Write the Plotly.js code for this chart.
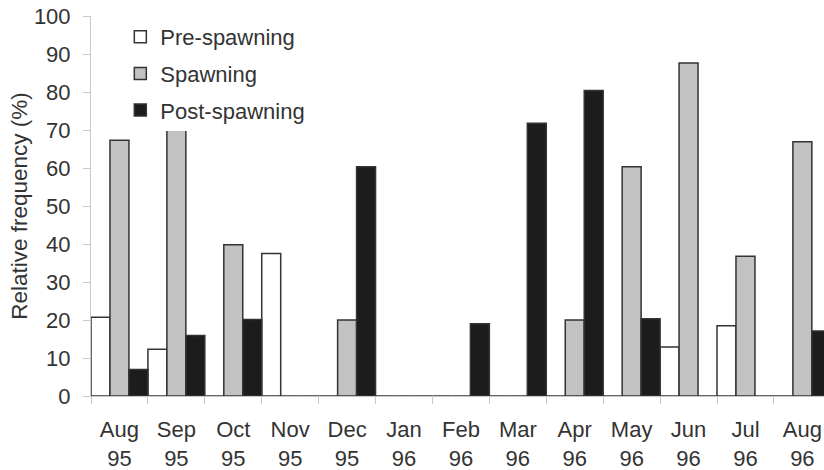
<!DOCTYPE html>
<html>
<head>
<meta charset="utf-8">
<script src="https://cdn.plot.ly/plotly-3.0.1.min.js"></script>
<style>html,body{margin:0;padding:0;background:#fff;overflow:hidden;}#chart{width:824px;height:470px;}</style>
</head>
<body>
<div id="chart"></div>
<script>
const categories = ["Aug<br>95","Sep<br>95","Oct<br>95","Nov<br>95","Dec<br>95","Jan<br>96","Feb<br>96","Mar<br>96","Apr<br>96","May<br>96","Jun<br>96","Jul<br>96","Aug<br>96"];
const preSpawning  = [20.7, 12.3, 0, 37.5, 0, 0, 0, 0, 0, 0, 12.9, 18.5, 0];
const spawning     = [67.3, 72, 39.8, 0, 20, 0, 0, 0, 20, 60.3, 87.6, 36.8, 66.9];
const postSpawning = [7.0, 15.9, 20.1, 0, 60.3, 0, 19.0, 71.8, 80.4, 20.3, 0, 0, 17.1];
const seriesNames = ["Pre-spawning","Spawning","Post-spawning"];

const fontFam = '"Liberation Sans", Arial, sans-serif';
const lineCol = '#333333';
function mk(name, y, fill, grp){
  return {type:'bar', name:name, x:categories, y:y, legendgroup:grp,
    marker:{color:fill, line:{color:lineCol, width:1.5}}, hoverinfo:'skip'};
}
const data = [
  mk(seriesNames[0], preSpawning, '#ffffff', 'a'),
  mk(seriesNames[1], spawning, '#c2c2c2', 'b'),
  mk(seriesNames[2], postSpawning, '#1c1c1c', 'c')
];
const layout = {
  width:824, height:470,
  margin:{l:91, r:0, t:16, b:74},
  paper_bgcolor:'#ffffff', plot_bgcolor:'#ffffff',
  font:{family:fontFam, size:22, color:'#333333'},
  barmode:'group', bargap:0, bargroupgap:0,
  showlegend:true,
  legend:{x:0.04, y:1.0, xanchor:'left', yanchor:'top', bgcolor:'rgba(255,255,255,1)',
    font:{family:fontFam, size:22, color:'#333333'}, traceorder:'grouped', tracegroupgap:5,
    itemwidth:30},
  xaxis:{type:'category', range:[-0.5, 12.38], showline:true, linecolor:'#c8c8c8', linewidth:1,
    ticks:'outside', tickson:'boundaries', ticklen:7, tickcolor:'#c8c8c8', ticklabelstandoff:14,
    showgrid:false, zeroline:false, tickfont:{family:fontFam, size:22, color:'#333333'}},
  yaxis:{range:[0,100], dtick:10, showline:true, linecolor:'#c8c8c8', linewidth:1,
    ticks:'outside', ticklen:7, tickcolor:'#c8c8c8', ticklabelstandoff:8, showgrid:false, zeroline:false,
    tickfont:{family:fontFam, size:22, color:'#333333'},
    title:{text:'Relative frequency (%)', font:{family:fontFam, size:22.5, color:'#333333'}, standoff:0}}
};
Plotly.newPlot('chart', data, layout, {displayModeBar:false, staticPlot:true});
</script>
</body>
</html>
